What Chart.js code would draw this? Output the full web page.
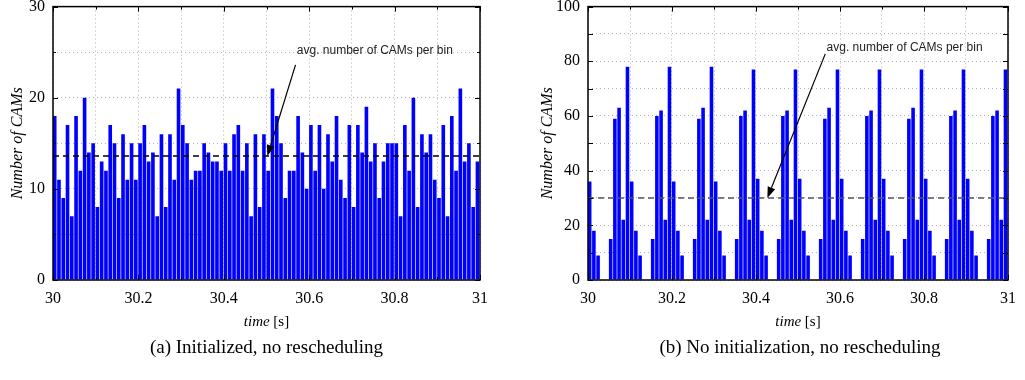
<!DOCTYPE html>
<html>
<head>
<meta charset="utf-8">
<script src="https://cdn.jsdelivr.net/npm/chart.js@4.4.0/dist/chart.umd.min.js"></script>
<style>
  body { margin: 0; background: #fff; }
  #wrap { position: relative; width: 1025px; height: 380px; overflow: hidden; }
  canvas { position: absolute; top: -11px; }
  .caption { position: absolute; top: 336px; font-family: "Liberation Serif", serif; font-size: 19px; text-align: center; color: #000; }
</style>
</head>
<body>
<div id="wrap">
  <canvas id="chartA" width="505" height="351" style="left:0"></canvas>
  <canvas id="chartB" width="495" height="351" style="left:530px"></canvas>
  <div class="caption" style="left:53px;width:427px">(a) Initialized, no rescheduling</div>
  <div class="caption" style="left:588px;width:424px">(b) No initialization, no rescheduling</div>
</div>
<script>
// CAMs per 10 ms bin, 30 s .. 31 s
const countsInit = [
  18, 11, 9, 17, 7, 18, 12, 20, 14, 15,
  8, 13, 12, 17, 15, 9, 16, 11, 15, 11,
  15, 17, 13, 14, 7, 16, 8, 16, 11, 21,
  17, 15, 11, 12, 12, 15, 14, 13, 13, 12,
  15, 12, 16, 17, 12, 15, 7, 16, 8, 16,
  12, 21, 18, 15, 9, 12, 12, 18, 14, 10,
  17, 12, 17, 10, 16, 13, 18, 11, 9, 17,
  8, 17, 14, 19, 13, 15, 9, 13, 15, 15,
  15, 7, 17, 12, 20, 8, 16, 14, 16, 11,
  9, 17, 7, 18, 12, 21, 13, 15, 8, 13
];
const countsNoInit = [
  36, 18, 9, 0, 0, 15, 59, 63, 22, 78,
  36, 18, 9, 0, 0, 15, 60, 62, 22, 78,
  36, 18, 9, 0, 0, 15, 59, 63, 22, 78,
  36, 18, 9, 0, 0, 15, 60, 62, 22, 77,
  37, 18, 9, 0, 0, 15, 60, 62, 22, 77,
  37, 18, 9, 0, 0, 15, 59, 63, 22, 77,
  37, 18, 9, 0, 0, 15, 60, 62, 22, 77,
  37, 18, 9, 0, 0, 15, 59, 63, 22, 77,
  37, 18, 9, 0, 0, 15, 60, 62, 22, 77,
  37, 18, 9, 0, 0, 15, 60, 62, 22, 77
];
const avgInit = 13.6;
const avgNoInit = 30;
const tStart = 30;
const tEnd = 31;
const binSize = 0.01;
const noteText = 'avg. number of CAMs per bin';

const serif = '"Liberation Serif", "Times New Roman", serif';

// gnuplot-like frame, inner tick marks, x title and arrow note
const framePlugin = {
  id: 'frame',
  afterDatasetsDraw(chart, args, opts) {
    const { ctx, chartArea: a, scales: { x, y } } = chart;
    ctx.save();
    ctx.strokeStyle = '#000';
    ctx.lineWidth = 1;
    x.ticks.forEach(t => {
      const px = Math.round(x.getPixelForValue(t.value)) + 0.5;
      const len = Math.round(t.value * 10) % 2 === 0 ? 5 : 3;
      ctx.beginPath();
      ctx.moveTo(px, a.bottom); ctx.lineTo(px, a.bottom - len);
      ctx.moveTo(px, a.top); ctx.lineTo(px, a.top + len);
      ctx.stroke();
    });
    y.ticks.forEach(t => {
      const py = Math.round(y.getPixelForValue(t.value)) + 0.5;
      const len = t.value % 10 === 0 ? 5 : 3;
      ctx.beginPath();
      ctx.moveTo(a.left, py); ctx.lineTo(a.left + len, py);
      ctx.moveTo(a.right, py); ctx.lineTo(a.right - len, py);
      ctx.stroke();
    });
    ctx.lineWidth = 1.5;
    ctx.strokeRect(a.left, a.top, a.right - a.left, a.bottom - a.top);

    // x axis title: italic "time" + upright "[s]"
    ctx.fillStyle = '#000';
    ctx.textBaseline = 'middle';
    ctx.textAlign = 'left';
    const f1 = 'italic 15px ' + serif, f2 = '15px ' + serif;
    ctx.font = f1; const w1 = ctx.measureText('time ').width;
    ctx.font = f2; const w2 = ctx.measureText('[s]').width;
    let sx = (a.left + a.right) / 2 - (w1 + w2) / 2;
    ctx.font = f1; ctx.fillText('time ', sx, a.bottom + 42);
    ctx.font = f2; ctx.fillText('[s]', sx + w1, a.bottom + 42);

    // annotation arrow
    const n = opts.note;
    if (n) {
      const x0 = x.getPixelForValue(n.from[0]), y0 = y.getPixelForValue(n.from[1]);
      const x1 = x.getPixelForValue(n.to[0]), y1 = y.getPixelForValue(n.to[1]);
      const ang = Math.atan2(y1 - y0, x1 - x0);
      const hl = 11, hw = 4;
      const bx = x1 - hl * Math.cos(ang), by = y1 - hl * Math.sin(ang);
      ctx.lineWidth = 1.2;
      ctx.beginPath(); ctx.moveTo(x0, y0); ctx.lineTo(bx, by); ctx.stroke();
      ctx.beginPath();
      ctx.moveTo(x1, y1);
      ctx.lineTo(bx + hw * Math.sin(ang), by - hw * Math.cos(ang));
      ctx.lineTo(bx - hw * Math.sin(ang), by + hw * Math.cos(ang));
      ctx.closePath(); ctx.fill();
      ctx.font = '12px "Liberation Sans", Arial, sans-serif';
      ctx.fillStyle = '#222';
      ctx.fillText(noteText, x.getPixelForValue(n.text[0]), y.getPixelForValue(n.text[1]));
    }
    ctx.restore();
  }
};

function makeChart(id, counts, yMax, yStep, avg, avgColor, note, padRight) {
  const bars = counts.map((v, i) => ({ x: tStart + i * binSize + 0.004, y: v }));
  return new Chart(document.getElementById(id), {
    type: 'bar',
    data: {
      datasets: [
        {
          type: 'line',
          data: [{ x: tStart, y: avg }, { x: tEnd, y: avg }],
          borderColor: avgColor,
          borderWidth: 1.5,
          borderDash: [6, 4],
          pointRadius: 0,
          order: 0
        },
        {
          data: bars,
          backgroundColor: '#0000ff',
          borderWidth: 0,
          barPercentage: 0.85,
          categoryPercentage: 1,
          order: 1
        }
      ]
    },
    options: {
      responsive: false,
      animation: false,
      layout: { padding: { top: 0, right: padRight, left: 0, bottom: 0 } },
      plugins: { legend: { display: false }, tooltip: { enabled: false }, frame: { note } },
      scales: {
        x: {
          type: 'linear',
          min: tStart, max: tEnd,
          offset: false,
          afterFit: s => { s.height = 60; },
          grid: { color: '#b4b4b4', lineWidth: 1, drawTicks: false, offset: false },
          border: { display: false, dash: [1, 3] },
          ticks: {
            stepSize: 0.1, autoSkip: false, maxRotation: 0, padding: 9, color: '#000',
            font: { family: serif, size: 16 },
            callback: v => { const r = Math.round(v * 10); return r % 2 === 0 ? String(r / 10) : ''; }
          }
        },
        y: {
          min: 0, max: yMax,
          afterFit: s => { s.width = id === 'chartA' ? 53 : 58; },
          grid: { color: '#b4b4b4', lineWidth: 1, drawTicks: false },
          border: { display: false, dash: [1, 3] },
          title: {
            display: true, text: 'Number of CAMs', color: '#000',
            font: { family: serif, size: 16, style: 'italic' },
            padding: { top: 8, bottom: 0 }
          },
          ticks: {
            stepSize: yStep, padding: 8, color: '#000',
            font: { family: serif, size: 16 },
            callback: v => (v % (yStep * 2) === 0 ? String(v) : '')
          }
        }
      }
    },
    plugins: [framePlugin]
  });
}

makeChart('chartA', countsInit, 30, 5, avgInit, '#000000',
  { from: [30.568, 23.6], to: [30.502, avgInit], text: [30.571, 25.2] }, 25);
makeChart('chartB', countsNoInit, 100, 10, avgNoInit, '#555555',
  { from: [30.565, 82.7], to: [30.427, avgNoInit], text: [30.568, 84.8] }, 13);
</script>
</body>
</html>
